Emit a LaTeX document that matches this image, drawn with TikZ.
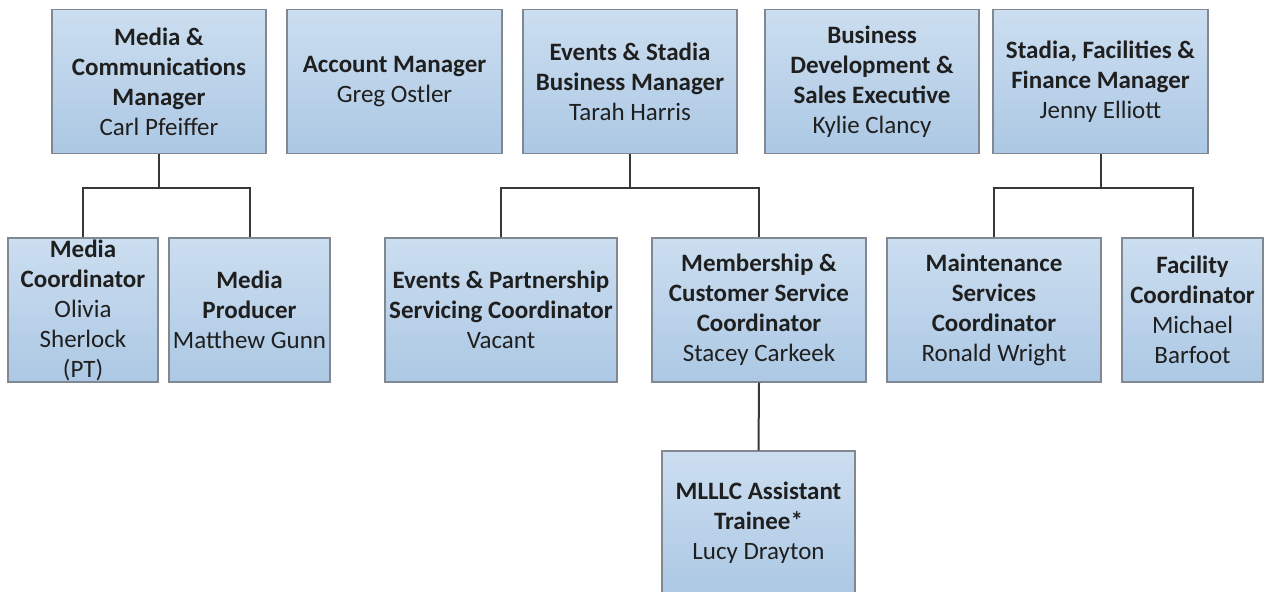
\documentclass[tikz,border=0pt]{standalone}
\usepackage{fontspec}
\setmainfont{Carlito}
\definecolor{boxtop}{RGB}{204,222,240}
\definecolor{boxbot}{RGB}{172,200,228}
\definecolor{boxline}{RGB}{128,136,146}

\begin{document}
\begin{tikzpicture}[x=0.5pt, y=-0.5pt,
	box/.style={draw=boxline, line width=0.6pt, top color=boxtop, bottom color=boxbot,
		align=center, inner sep=0pt, minimum height=72pt, text=black!88,
		font=\fontsize{12.5}{15}\selectfont},
	link/.style={draw=black!78, line width=1pt}]
	\useasboundingbox (0,0) rectangle (1272,591);

	\node[box, minimum width=107pt] (MCM) at (159,81.5)
		{\textbf{Media \&}\\\textbf{Communications}\\\textbf{Manager}\\Carl Pfeiffer};
	\node[box, minimum width=107.5pt] (AM) at (394.5,81.5)
		{\textbf{Account Manager}\\Greg Ostler};
	\node[box, minimum width=107pt] (ESBM) at (630,81.5)
		{\textbf{Events \& Stadia}\\\textbf{Business Manager}\\Tarah Harris};
	\node[box, minimum width=107pt] (BDSE) at (872,81.5)
		{\textbf{Business}\\\textbf{Development \&}\\\textbf{Sales Executive}\\Kylie Clancy};
	\node[box, minimum width=107.5pt] (SFFM) at (1100.5,81.5)
		{\textbf{Stadia, Facilities \&}\\\textbf{Finance Manager}\\Jenny Elliott};

	\node[box, minimum width=75pt] (MC) at (83,310)
		{\textbf{Media}\\\textbf{Coordinator}\\Olivia\\Sherlock\\(PT)};
	\node[box, minimum width=80.5pt] (MP) at (249.5,310)
		{\textbf{Media}\\\textbf{Producer}\\Matthew Gunn};
	\node[box, minimum width=116pt] (EPSC) at (501,310)
		{\textbf{Events \& Partnership}\\\textbf{Servicing Coordinator}\\Vacant};
	\node[box, minimum width=107pt] (MCSC) at (759,310)
		{\textbf{Membership \&}\\\textbf{Customer Service}\\\textbf{Coordinator}\\Stacey Carkeek};
	\node[box, minimum width=107pt] (MSC) at (994,310)
		{\textbf{Maintenance}\\\textbf{Services}\\\textbf{Coordinator}\\Ronald Wright};
	\node[box, minimum width=70.5pt] (FC) at (1192.5,310)
		{\textbf{Facility}\\\textbf{Coordinator}\\Michael\\Barfoot};

	\node[box, minimum width=96.5pt] (MAT) at (758.5,523)
		{\textbf{MLLLC Assistant}\\\textbf{Trainee*}\\Lucy Drayton};

	\coordinate (bus) at (0,188);
	\draw[link] (MCM.south) -- (MCM.south |- bus);
	\draw[link] (MC.north) |- (MP.north |- bus) -- (MP.north);
	\draw[link] (ESBM.south) -- (ESBM.south |- bus);
	\draw[link] (EPSC.north) |- (MCSC.north |- bus) -- (MCSC.north);
	\draw[link] (SFFM.south) -- (SFFM.south |- bus);
	\draw[link] (MSC.north) |- (FC.north |- bus) -- (FC.north);
	\draw[link] (MCSC.south) -- (MAT.north);
\end{tikzpicture}
\end{document}
